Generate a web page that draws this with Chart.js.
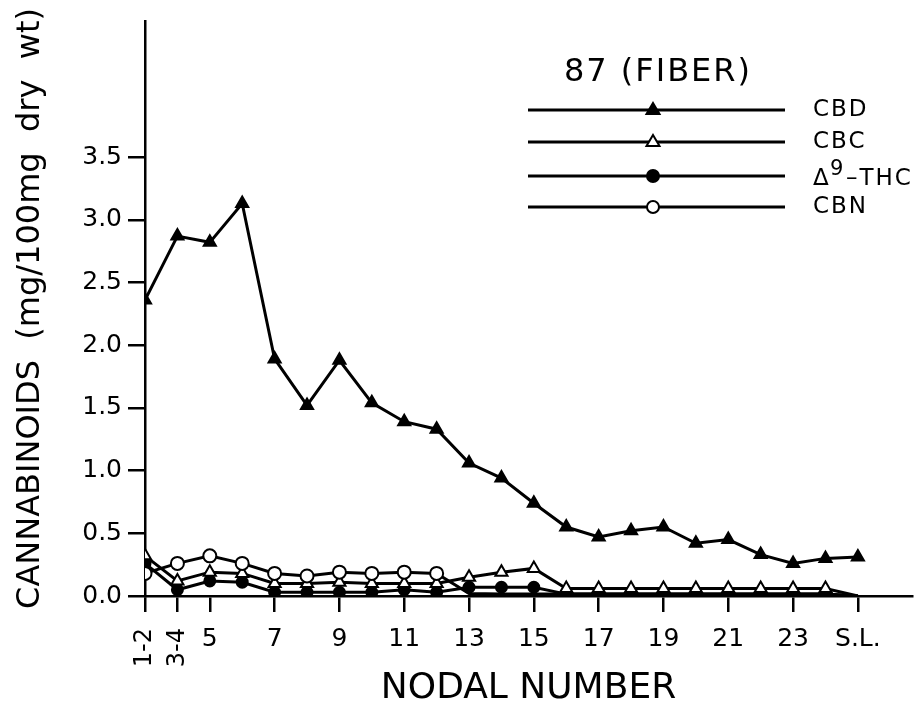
<!DOCTYPE html>
<html>
<head>
<meta charset="utf-8">
<script src="https://cdn.jsdelivr.net/npm/chart.js@4.4.0/dist/chart.umd.min.js"></script>
<style>
  html, body { margin: 0; padding: 0; background: #fff; }
  #wrap { width: 922px; height: 711px; }
</style>
</head>
<body>
<div id="wrap"><canvas id="chart"></canvas></div>
<script>
// nodal positions, one per point (index on the x axis)
const nodeLabels = ["1-2","3-4","5","6","7","8","9","10","11","12","13","14","15","16","17","18","19","20","21","22","23","24","S.L."];
const xTickIdx = [0, 1, 2, 4, 6, 8, 10, 12, 14, 16, 18, 20, 22];
const yTicks = [0, 0.5, 1.0, 1.5, 2.0, 2.5, 3.0, 3.5];

// mg / 100mg dry wt
const cbd = [2.36, 2.87, 2.82, 3.13, 1.89, 1.52, 1.88, 1.54, 1.39, 1.33, 1.06, 0.94, 0.74, 0.55, 0.47, 0.52, 0.55, 0.42, 0.45, 0.33, 0.26, 0.30, 0.31];
const cbc = [0.32, 0.12, 0.19, 0.18, 0.10, 0.10, 0.11, 0.10, 0.10, 0.10, 0.15, 0.19, 0.22, 0.06, 0.06, 0.06, 0.06, 0.06, 0.06, 0.06, 0.06, 0.06, 0];
const thc = [0.26, 0.05, 0.12, 0.11, 0.03, 0.03, 0.03, 0.03, 0.05, 0.03, 0.07, 0.07, 0.07, 0.015, 0.015, 0.015, 0.015, 0.015, 0.015, 0.015, 0.015, 0.015, 0];
const cbn = [0.18, 0.26, 0.32, 0.26, 0.18, 0.16, 0.19, 0.18, 0.19, 0.18, 0.02, 0.015, 0.015, 0.015, 0.015, 0.015, 0.015, 0.015, 0.015, 0.015, 0.015, 0.015, 0];

const FONT = "'DejaVu Sans', sans-serif";

function pts(arr) {
  return arr.map((v, i) => ({ x: i, y: v }));
}

// trace amounts are drawn as line only
function radius(r) {
  return ctx => (ctx.raw && ctx.raw.y >= 0.025) ? r : 0;
}

function series(label, arr, style, fill, r, order) {
  return {
    label,
    data: pts(arr),
    borderColor: "#000",
    borderWidth: 3,
    pointStyle: style,
    pointRadius: radius(r),
    pointBackgroundColor: fill,
    pointBorderColor: "#000",
    pointBorderWidth: 2,
    tension: 0,
    order
  };
}

// draws the rotated first two tick labels, the title and the key
const extras = {
  id: "extras",
  afterDraw(chart) {
    const ctx = chart.ctx;
    const xs = chart.scales.x;
    ctx.save();
    ctx.fillStyle = "#000";
    ctx.font = "24px " + FONT;
    ["1-2", "3-4"].forEach((t, i) => {
      ctx.save();
      ctx.translate(xs.getPixelForValue(i), 628);
      ctx.rotate(-Math.PI / 2);
      ctx.textAlign = "right";
      ctx.textBaseline = "middle";
      ctx.fillText(t, 0, 0);
      ctx.restore();
    });

    ctx.font = "32px " + FONT;
    ctx.letterSpacing = "2px";
    ctx.textAlign = "center";
    ctx.textBaseline = "alphabetic";
    ctx.fillText("87 (FIBER)", 658, 81);

    const rows = [
      { y: 110, style: "triangle", fill: "#000", name: "CBD" },
      { y: 142, style: "triangle", fill: "#fff", name: "CBC" },
      { y: 176, style: "circle", fill: "#000", name: "THC" },
      { y: 207, style: "circle", fill: "#fff", name: "CBN" }
    ];
    ctx.letterSpacing = "2px";
    rows.forEach(r => {
      ctx.strokeStyle = "#000";
      ctx.lineWidth = 3;
      ctx.beginPath();
      ctx.moveTo(528, r.y);
      ctx.lineTo(785, r.y);
      ctx.stroke();

      ctx.fillStyle = r.fill;
      ctx.lineWidth = 2;
      ctx.beginPath();
      if (r.style === "circle") {
        ctx.arc(653, r.y, 6, 0, Math.PI * 2);
      } else {
        ctx.moveTo(653, r.y - 7);
        ctx.lineTo(659.5, r.y + 4);
        ctx.lineTo(646.5, r.y + 4);
        ctx.closePath();
      }
      ctx.fill();
      ctx.stroke();

      ctx.fillStyle = "#000";
      ctx.textAlign = "left";
      ctx.textBaseline = "middle";
      ctx.font = "23px " + FONT;
      if (r.name === "THC") {
        ctx.fillText("\u0394", 813, r.y + 3);
        ctx.font = "21px " + FONT;
        ctx.fillText("9", 830, r.y - 6);
        ctx.font = "23px " + FONT;
        ctx.fillText("\u2013THC", 846, r.y + 3);
      } else {
        ctx.fillText(r.name, 813, r.y);
      }
    });
    ctx.restore();
  }
};

new Chart(document.getElementById("chart"), {
  type: "line",
  data: {
    datasets: [
      series("CBD", cbd, "triangle", "#000", 7, 1),
      series("CBC", cbc, "triangle", "#fff", 7, 2),
      series("\u0394\u2079-THC", thc, "circle", "#000", 5.5, 3),
      series("CBN", cbn, "circle", "#fff", 6.5, 0)
    ]
  },
  options: {
    responsive: true,
    maintainAspectRatio: false,
    animation: false,
    layout: { padding: { top: 5, right: 10, left: 0, bottom: 0 } },
    plugins: {
      legend: { display: false },
      tooltip: { enabled: false }
    },
    scales: {
      x: {
        type: "linear",
        min: 0,
        max: 23.67,
        afterBuildTicks: s => { s.ticks = xTickIdx.map(v => ({ value: v })); },
        afterFit: s => { s.height = 115; },
        ticks: {
          color: "#000",
          font: { family: FONT, size: 25 },
          padding: 12,
          maxRotation: 0,
          autoSkip: false,
          callback: v => (v < 2 ? "" : nodeLabels[v])
        },
        grid: {
          drawOnChartArea: false,
          color: "#000",
          lineWidth: 2.5,
          tickLength: 16
        },
        border: { color: "#000", width: 2.5 },
        title: {
          display: true,
          text: "NODAL NUMBER",
          color: "#000",
          font: { family: FONT, size: 36 },
          padding: { top: 4, bottom: 1 }
        }
      },
      y: {
        min: 0,
        max: 4.585,
        afterBuildTicks: s => { s.ticks = yTicks.map(v => ({ value: v })); },
        afterFit: s => { s.width = 145; },
        ticks: {
          color: "#000",
          font: { family: FONT, size: 25 },
          padding: 6,
          callback: v => v.toFixed(1)
        },
        grid: {
          drawOnChartArea: false,
          color: "#000",
          lineWidth: 2.5,
          tickLength: 17
        },
        border: { color: "#000", width: 2.5 },
        title: {
          display: true,
          text: "CANNABINOIDS  (mg/100mg  dry  wt)",
          color: "#000",
          font: { family: FONT, size: 32 },
          padding: { top: 11, bottom: 4 }
        }
      }
    }
  },
  plugins: [extras]
});
</script>
</body>
</html>
